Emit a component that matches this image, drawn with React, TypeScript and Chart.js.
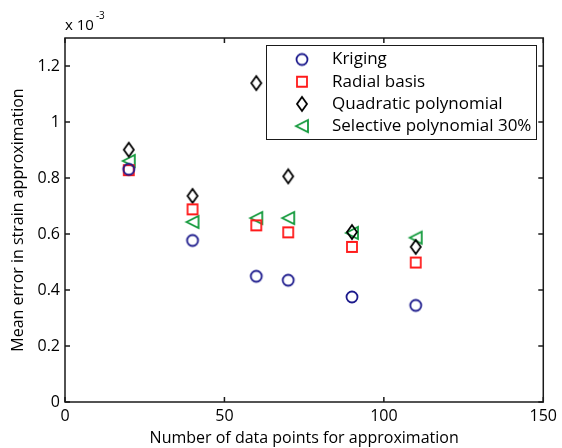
import React, { useEffect, useRef } from "react";
import { Chart, registerables } from "chart.js";

Chart.register(...registerables);

const FONT = "'Open Sans', sans-serif";

// ---- data ----
const xValues = [20, 40, 60, 70, 90, 110];
const kriging = [0.831, 0.577, 0.449, 0.435, 0.375, 0.345];
const radialBasis = [0.828, 0.688, 0.631, 0.606, 0.554, 0.498];
const quadratic = [0.901, 0.736, 1.139, 0.806, 0.607, 0.554];
const selective = [0.861, 0.643, 0.657, 0.657, 0.604, 0.587];
const seriesNames = ["Kriging", "Radial basis", "Quadratic polynomial", "Selective polynomial 30%"];
const xTicks = [0, 50, 100, 150];
const yTicks = [0, 0.2, 0.4, 0.6, 0.8, 1.0, 1.2];
const yTickLabels = ["0", "0.2", "0.4", "0.6", "0.8", "1", "1.2"];
const xTitle = "Number of data points for approximation";
const yTitle = "Mean error in strain approximation";

type Kind = "circle" | "square" | "diamond" | "triangle";

function makeMarker(kind: Kind, color: string): HTMLCanvasElement {
  const c = document.createElement("canvas");
  c.width = 18;
  c.height = 18;
  const ctx = c.getContext("2d")!;
  ctx.strokeStyle = color;
  ctx.lineWidth = 1.8;
  const cx = 9, cy = 9;
  ctx.beginPath();
  if (kind === "circle") {
    ctx.arc(cx, cy, 5.5, 0, Math.PI * 2);
  } else if (kind === "square") {
    ctx.rect(cx - 5, cy - 5, 10, 10);
  } else if (kind === "diamond") {
    ctx.moveTo(cx, cy - 7);
    ctx.lineTo(cx + 5, cy);
    ctx.lineTo(cx, cy + 7);
    ctx.lineTo(cx - 5, cy);
    ctx.closePath();
  } else {
    ctx.moveTo(cx - 6, cy);
    ctx.lineTo(cx + 6, cy - 6);
    ctx.lineTo(cx + 6, cy + 6);
    ctx.closePath();
  }
  ctx.stroke();
  return c;
}

export default function App() {
  const ref = useRef<HTMLCanvasElement | null>(null);

  useEffect(() => {
    if (!ref.current) return;
    const markers = [
      makeMarker("circle", "#1c1a8c"),
      makeMarker("square", "#ff1a1a"),
      makeMarker("diamond", "#000000"),
      makeMarker("triangle", "#139a3c"),
    ];
    const series = [kriging, radialBasis, quadratic, selective];

    const boxPlugin = {
      id: "matlabBox",
      beforeDatasetsDraw(chart: any) {
        const { ctx, chartArea } = chart;
        const { left, right, top, bottom } = chartArea;
        const xs = chart.scales.x;
        const ys = chart.scales.y;
        ctx.save();
        ctx.strokeStyle = "#1a1a1a";
        ctx.lineWidth = 1.5;
        ctx.strokeRect(left, top, right - left, bottom - top);
        ctx.beginPath();
        const tl = 5;
        xTicks.forEach((v) => {
          const px = xs.getPixelForValue(v);
          ctx.moveTo(px, bottom);
          ctx.lineTo(px, bottom - tl);
          ctx.moveTo(px, top);
          ctx.lineTo(px, top + tl);
        });
        yTicks.forEach((v) => {
          const py = ys.getPixelForValue(v);
          ctx.moveTo(left, py);
          ctx.lineTo(left + tl, py);
          ctx.moveTo(right, py);
          ctx.lineTo(right - tl, py);
        });
        ctx.stroke();
        // exponent label
        ctx.fillStyle = "#000";
        ctx.textBaseline = "alphabetic";
        ctx.textAlign = "left";
        ctx.font = `15px ${FONT}`;
        ctx.fillText("x 10", left, top - 8);
        const w = ctx.measureText("x 10").width;
        ctx.font = `10px ${FONT}`;
        ctx.fillText("-3", left + w + 2, top - 19);
        ctx.restore();
      },
      afterDraw(chart: any) {
        const { ctx, chartArea } = chart;
        const bx = chartArea.left + 201;
        const by = chartArea.top + 7;
        const bw = 270;
        const bh = 94;
        ctx.save();
        ctx.fillStyle = "#ffffff";
        ctx.fillRect(bx, by, bw, bh);
        ctx.strokeStyle = "#1a1a1a";
        ctx.lineWidth = 1;
        ctx.strokeRect(bx + 0.5, by + 0.5, bw, bh);
        ctx.font = `17px ${FONT}`;
        ctx.fillStyle = "#000";
        ctx.textBaseline = "middle";
        ctx.textAlign = "left";
        seriesNames.forEach((name, i) => {
          const cy = by + 14.5 + i * 22.2;
          const m = markers[i];
          ctx.drawImage(m, bx + 36 - m.width / 2, cy - m.height / 2);
          ctx.fillText(name, bx + 66, cy);
        });
        ctx.restore();
      },
    };

    const chart = new Chart(ref.current, {
      type: "scatter",
      data: {
        datasets: series.map((vals, i) => ({
          label: seriesNames[i],
          data: vals.map((y, j) => ({ x: xValues[j], y })),
          pointStyle: markers[i] as any,
          showLine: false,
        })),
      },
      options: {
        animation: false,
        responsive: false,
        layout: { padding: { top: 38, right: 17, left: 0, bottom: 0 } },
        plugins: {
          legend: { display: false },
          tooltip: { enabled: false },
        },
        scales: {
          x: {
            type: "linear",
            min: 0,
            max: 150,
            afterBuildTicks: (s: any) => {
              s.ticks = xTicks.map((v) => ({ value: v }));
            },
            afterFit: (s: any) => {
              s.height = 46;
            },
            grid: { display: false, drawTicks: false },
            border: { display: false },
            ticks: {
              color: "#000",
              font: { family: FONT, size: 16 },
              padding: 5,
              maxRotation: 0,
              autoSkip: false,
              callback: (v: any) => String(v),
            },
            title: {
              display: true,
              text: xTitle,
              color: "#000",
              font: { family: FONT, size: 16 },
              padding: { top: 0, bottom: 0 },
            },
          },
          y: {
            type: "linear",
            min: 0,
            max: 1.3,
            afterBuildTicks: (s: any) => {
              s.ticks = yTicks.map((v) => ({ value: v }));
            },
            afterFit: (s: any) => {
              s.width = 65;
            },
            grid: { display: false, drawTicks: false },
            border: { display: false },
            ticks: {
              color: "#000",
              font: { family: FONT, size: 16 },
              padding: 5,
              autoSkip: false,
              callback: (v: any) => {
                const idx = yTicks.findIndex((t) => Math.abs(t - v) < 1e-9);
                return idx >= 0 ? yTickLabels[idx] : "";
              },
            },
            title: {
              display: true,
              text: yTitle,
              color: "#000",
              font: { family: FONT, size: 16 },
              padding: { top: 9, bottom: 0 },
            },
          },
        },
      },
      plugins: [boxPlugin],
    });
    return () => chart.destroy();
  }, []);

  return (
    <div style={{ position: "fixed", left: 0, top: 0, width: 562, height: 448, background: "#fff" }}>
      <canvas ref={ref} width={562} height={448} style={{ width: 562, height: 448, display: "block" }} />
    </div>
  );
}
